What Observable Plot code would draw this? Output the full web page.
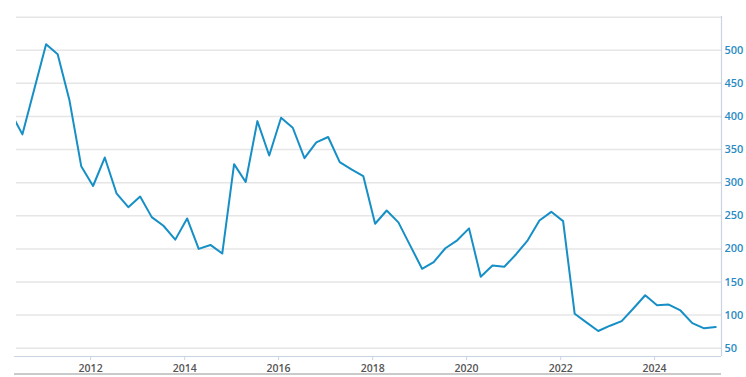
<!DOCTYPE html>
<html>
<head>
<meta charset="utf-8">
<script src="https://cdn.jsdelivr.net/npm/d3@7"></script>
<script src="https://cdn.jsdelivr.net/npm/@observablehq/plot@0.6"></script>
<style>
  html, body { margin: 0; padding: 0; background: #fff; }
  #chart svg { display: block; overflow: visible; }
</style>
</head>
<body>
<div id="chart"></div>
<script>
// Quarterly observation dates
const dates = [
  "2010-04-20","2010-07-20","2010-10-20",
  "2011-01-20","2011-04-20","2011-07-20","2011-10-20",
  "2012-01-20","2012-04-20","2012-07-20","2012-10-20",
  "2013-01-20","2013-04-20","2013-07-20","2013-10-20",
  "2014-01-20","2014-04-20","2014-07-20","2014-10-20",
  "2015-01-20","2015-04-20","2015-07-20","2015-10-20",
  "2016-01-20","2016-04-20","2016-07-20","2016-10-20",
  "2017-01-20","2017-04-20","2017-07-20","2017-10-20",
  "2018-01-20","2018-04-20","2018-07-20","2018-10-20",
  "2019-01-20","2019-04-20","2019-07-20","2019-10-20",
  "2020-01-20","2020-04-20","2020-07-20","2020-10-20",
  "2021-01-20","2021-04-20","2021-07-20","2021-10-20",
  "2022-01-20","2022-04-20","2022-07-20","2022-10-20",
  "2023-01-20","2023-04-20","2023-07-20","2023-10-20",
  "2024-01-20","2024-04-20","2024-07-20","2024-10-20",
  "2025-01-20","2025-04-20"
];
// Series values
const values = [
  406, 373, 441,
  509, 494, 425, 325,
  295, 338, 284, 263,
  279, 248, 235, 214,
  246, 200, 206, 193,
  328, 301, 393, 341,
  398, 383, 337, 361,
  369, 331, 320, 310,
  238, 258, 240, 205,
  170, 180, 201, 213,
  231, 158, 175, 173,
  192, 213, 243, 256,
  242, 102, 89, 76,
  84, 91, 110, 130,
  115, 116, 107, 88,
  80, 82
];
const yTicks = [50, 100, 150, 200, 250, 300, 350, 400, 450, 500];
const gridTicks = [50, 100, 150, 200, 250, 300, 350, 400, 450, 500, 550];
const xTickYears = ["2012", "2014", "2016", "2018", "2020", "2022", "2024"];
const xDomain = ["2010-06-04", "2025-06-04"];
const yDomain = [37.5, 551];

const parse = d3.utcParse("%Y-%m-%d");
const data = dates.map((d, i) => ({date: parse(d), value: values[i]}));
const xTicks = xTickYears.map(y => d3.utcParse("%Y")(y));
const xd = xDomain.map(parse);

const chart = Plot.plot({
  width: 746,
  height: 377,
  marginLeft: 16,
  marginRight: 25,
  marginTop: 16,
  marginBottom: 21,
  style: {fontFamily: "'Open Sans', sans-serif", background: "#fff", overflow: "visible"},
  x: {type: "utc", domain: xd},
  y: {domain: yDomain},
  marks: [
    Plot.gridY(gridTicks, {stroke: "#e6e6e6", strokeOpacity: 1, strokeWidth: 1.5}),
    Plot.ruleX([xd[1]], {stroke: "#c9d4e2", strokeWidth: 1.2}),
    Plot.ruleY([yDomain[0]], {stroke: "#c9d4e2", strokeWidth: 1.2, insetLeft: -2}),
    Plot.ruleY([yDomain[0]], {dy: 17.5, stroke: "#b8b8b8", strokeWidth: 1.5, insetLeft: -2}),
    Plot.axisY(yTicks, {
      anchor: "right", tickSize: 0, tickPadding: 3,
      fill: "#2a8bc4", fontSize: 11, fontWeight: 600, label: null
    }),
    Plot.axisX(xTicks, {
      anchor: "bottom", tickSize: 4, stroke: "#c9d4e2",
      tickFormat: d3.utcFormat("%Y"), tickPadding: 4,
      fill: "#555", fontSize: 10.5, fontWeight: 600, label: null
    }),
    Plot.line(data, {x: "date", y: "value", stroke: "#168fc6", strokeWidth: 2, clip: true})
  ]
});
document.getElementById("chart").appendChild(chart);
</script>
</body>
</html>
